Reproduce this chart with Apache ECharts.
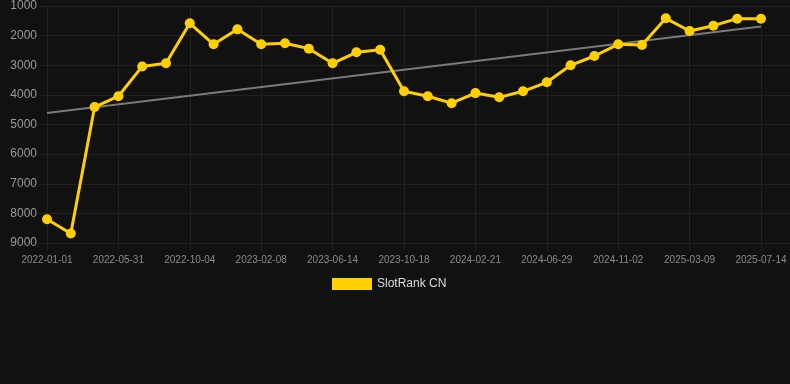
<!DOCTYPE html>
<html>
<head>
<meta charset="utf-8">
<script src="https://cdn.jsdelivr.net/npm/echarts@6/dist/echarts.min.js"></script>
<style>
html,body{margin:0;padding:0;background:#111111;}
#chart{width:790px;height:384px;}
</style>
</head>
<body>
<div id="chart"></div>
<script>
var categories = ["2022-01-01","2022-02-20","2022-04-11","2022-05-31","2022-07-12","2022-08-23","2022-10-04","2022-11-16","2022-12-28","2023-02-08","2023-03-22","2023-05-03","2023-06-14","2023-07-26","2023-09-06","2023-10-18","2023-11-29","2024-01-10","2024-02-21","2024-04-03","2024-05-16","2024-06-29","2024-08-10","2024-09-21","2024-11-02","2024-12-14","2025-01-25","2025-03-09","2025-04-20","2025-06-01","2025-07-14"];
var rankValues = [8200,8680,4410,4045,3040,2935,1585,2294,1788,2294,2260,2440,2934,2564,2474,3880,4045,4280,3940,4083,3880,3576,3003,2688,2294,2316,1416,1844,1664,1428,1428];
var seriesName = "SlotRank CN";
var yTicks = [1000,9000,1000]; // min, max, interval

// linear regression trend derived from the data
function trendOf(vals){
  var n = vals.length, sx=0, sy=0, sxy=0, sxx=0;
  for (var i=0;i<n;i++){ sx+=i; sy+=vals[i]; sxy+=i*vals[i]; sxx+=i*i; }
  var b = (n*sxy - sx*sy)/(n*sxx - sx*sx);
  var a = (sy - b*sx)/n;
  var out = [];
  for (var j=0;j<n;j++){ out.push((j===0||j===n-1) ? a+b*j : null); }
  return out;
}
var trendValues = trendOf(rankValues);

var gridColor = '#212121';
var font = 'Liberation Sans, Arial, sans-serif';
var chart = echarts.init(document.getElementById('chart'));
chart.setOption({
  backgroundColor: '#111111',
  animation: false,
  grid: {left: 47, right: 29, top: 6, bottom: 141},
  legend: {
    data: [{name: seriesName, icon: 'rect'}],
    left: 332, top: 278, padding: 0,
    itemWidth: 40, itemHeight: 12, itemGap: 10,
    textStyle: {color: '#dddddd', fontSize: 12, fontFamily: font}
  },
  xAxis: {
    type: 'category',
    data: categories,
    boundaryGap: false,
    axisLine: {show: false},
    axisTick: {show: true, interval: 2, length: 8, lineStyle: {color: gridColor}},
    axisLabel: {interval: 2, color: '#8a8a8a', fontSize: 10, margin: 12, fontFamily: font},
    splitLine: {show: true, interval: 2, lineStyle: {color: gridColor, width: 1}}
  },
  yAxis: [{
    type: 'value',
    inverse: true,
    min: yTicks[0], max: yTicks[1], interval: yTicks[2],
    axisLine: {show: false},
    axisTick: {show: true, length: 8, lineStyle: {color: gridColor}},
    axisLabel: {color: '#9a9a9a', fontSize: 12, margin: 10, fontFamily: font, formatter: function(v){ return String(v); }},
    splitLine: {show: true, lineStyle: {color: gridColor, width: 1}}
  }, {
    type: 'value',
    position: 'right',
    inverse: true,
    min: yTicks[0], max: yTicks[1], interval: yTicks[2],
    axisLine: {show: false},
    axisTick: {show: true, length: 29, lineStyle: {color: gridColor}},
    axisLabel: {show: false},
    splitLine: {show: false}
  }],
  series: [
    {
      name: 'trend',
      type: 'line',
      data: trendValues,
      connectNulls: true,
      symbol: 'none',
      silent: true,
      lineStyle: {color: '#7a7a7a', width: 2},
      z: 1
    },
    {
      name: seriesName,
      type: 'line',
      data: rankValues,
      symbol: 'circle',
      symbolSize: 10,
      itemStyle: {color: '#ffd000'},
      lineStyle: {color: '#ffd000', width: 3},
      z: 2
    }
  ]
});
</script>
</body>
</html>
